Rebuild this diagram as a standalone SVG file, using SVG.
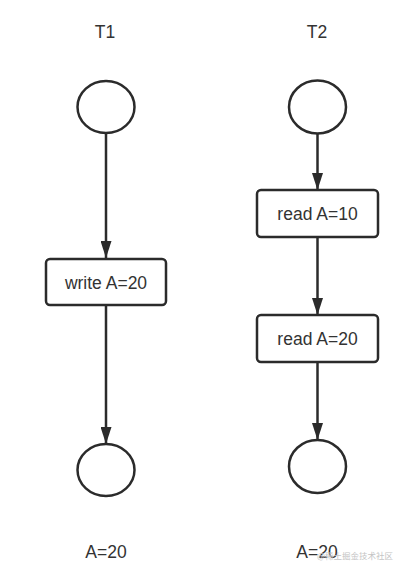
<svg xmlns="http://www.w3.org/2000/svg" width="406" height="575" viewBox="0 0 406 575">
<defs>
<style>
.shape{fill:#fff;stroke:#2b2b2b;stroke-width:2.5}
.lbl{font-family:"Liberation Sans",Arial,sans-serif;font-size:17.5px;fill:#333;text-anchor:middle}
.edge{stroke:#2b2b2b;stroke-width:2.5;fill:none}
.wm{font-family:"Noto Sans CJK SC",sans-serif;font-size:8.5px;fill:#c4c4c4;text-anchor:end}
</style>
<marker id="arr" viewBox="0 0 17 11" refX="17" refY="5.5" markerUnits="userSpaceOnUse" markerWidth="17" markerHeight="11" orient="auto">
<path d="M0,0 L17,5.5 L0,11 Z" fill="#2b2b2b"/>
</marker>
</defs>
<rect width="406" height="575" fill="#fff"/>
<text class="lbl" x="105" y="38">T1</text>
<text class="lbl" x="317" y="38">T2</text>
<g id="connectors">
<path class="edge" d="M106,133 L106,258" marker-end="url(#arr)"/>
<path class="edge" d="M106,305 L106,444" marker-end="url(#arr)"/>
<path class="edge" d="M317.5,134 L317.5,190" marker-end="url(#arr)"/>
<path class="edge" d="M317.5,237 L317.5,315" marker-end="url(#arr)"/>
<path class="edge" d="M317.5,362 L317.5,440" marker-end="url(#arr)"/>
</g>
<g id="t1-start"><ellipse class="shape" cx="106" cy="107" rx="28.5" ry="26"/></g>
<g id="t1-write"><rect class="shape" x="46" y="259" width="120" height="46" rx="4"/><text class="lbl" x="106" y="288.5">write A=20</text></g>
<g id="t1-end"><ellipse class="shape" cx="106" cy="470" rx="28.5" ry="26"/></g>
<g id="t2-start"><ellipse class="shape" cx="317.5" cy="107" rx="28.5" ry="26.5"/></g>
<g id="t2-read1"><rect class="shape" x="257" y="190" width="121" height="47" rx="4"/><text class="lbl" x="317.5" y="220">read A=10</text></g>
<g id="t2-read2"><rect class="shape" x="257" y="315" width="121" height="47" rx="4"/><text class="lbl" x="317.5" y="345">read A=20</text></g>
<g id="t2-end"><ellipse class="shape" cx="317.5" cy="466.5" rx="28.5" ry="26.5"/></g>
<text class="lbl" x="106" y="558">A=20</text>
<text class="lbl" x="317" y="558">A=20</text>
<text class="wm" x="393" y="559">@稀土掘金技术社区</text>
</svg>
